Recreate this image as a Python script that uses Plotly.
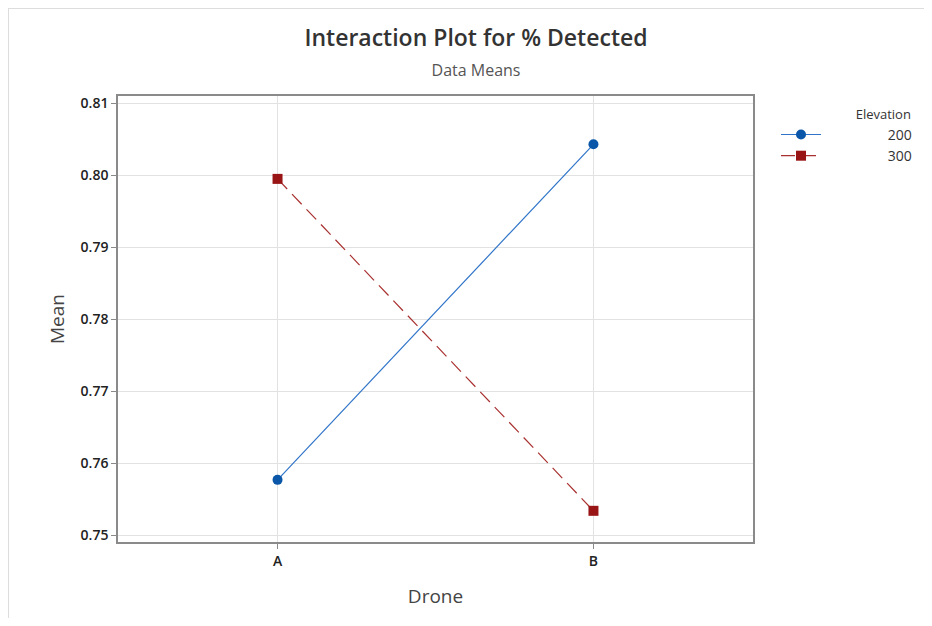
import plotly.graph_objects as go

drones = ["A", "B"]
elev_200 = [0.7577, 0.8043]
elev_300 = [0.7995, 0.7534]
series_names = ["200", "300"]
legend_title = "Elevation"
y_ticks = [0.75, 0.76, 0.77, 0.78, 0.79, 0.80, 0.81]
y_tick_labels = ["0.75", "0.76", "0.77", "0.78", "0.79", "0.80", "0.81"]

FONT = "Open Sans, Noto Sans, DejaVu Sans, sans-serif"
NB = "\u00a0"

# page body has an 8px default margin; figure sized to fit inside the window
OFF = 8
W, H = 932 - 2 * OFF, 626 - 2 * OFF
# desired plot-area edges in page pixels
PL, PR, PT, PB = 118, 753, 96, 542
L, R = PL - OFF, W - (PR - OFF)
T, B = PT - OFF, H - (PB - OFF)


def px_to_paper_x(px):  # px in page coords
    return (px - PL) / (PR - PL)


def px_to_paper_y(py):
    return (PB - py) / (PB - PT)


fig = go.Figure()
fig.add_trace(go.Scatter(
    x=drones, y=elev_200, name=NB * 17 + series_names[0], mode="lines+markers",
    line=dict(color="#2f74c8", width=1.2),
    marker=dict(symbol="circle", size=10, color="#0a56a8"),
))
fig.add_trace(go.Scatter(
    x=drones, y=elev_300, name=NB * 17 + series_names[1], mode="lines+markers",
    line=dict(color="#a83030", width=1.2, dash="14px,7px"),
    marker=dict(symbol="square", size=10, color="#991515"),
))

fig.update_layout(
    width=W, height=H,
    margin=dict(l=L, r=R, t=T, b=B, autoexpand=False),
    paper_bgcolor="white", plot_bgcolor="white",
    font=dict(family=FONT, color="#333333"),
    title=dict(
        text="Interaction Plot for % Detected<br><span style='font-size:16px;color:#555555;font-weight:400'>Data Means</span>",
        x=(476 - OFF) / W, xanchor="center", y=1 - 38 / H, yanchor="middle",
        font=dict(size=23, color="#333333", family=FONT, weight=600),
    ),
    xaxis=dict(
        type="category", range=[-0.505, 1.505],
        showgrid=True, gridcolor="#e2e2e2", gridwidth=1.2,
        showline=True, linecolor="#8a8a8a", linewidth=1.5, mirror=True,
        ticks="outside", ticklen=5, tickcolor="#8a8a8a",
        tickfont=dict(size=14, color="#222222", weight=600),
        title=dict(text="Drone", font=dict(size=19, color="#444444", weight=500), standoff=21),
        zeroline=False,
    ),
    yaxis=dict(
        range=[0.74907, 0.81101],
        tickvals=y_ticks, ticktext=y_tick_labels,
        showgrid=True, gridcolor="#e2e2e2", gridwidth=1.2,
        showline=True, linecolor="#8a8a8a", linewidth=1.5, mirror=True,
        ticks="outside", ticklen=5, tickcolor="#8a8a8a",
        tickfont=dict(size=14, color="#222222", weight=600),
        title=dict(text="Mean", font=dict(size=19, color="#444444", weight=500), standoff=11),
        zeroline=False,
    ),
    legend=dict(
        title=dict(text=NB * 23 + legend_title, font=dict(size=13, color="#333333"), side="top"),
        x=px_to_paper_x(776), xanchor="left",
        y=px_to_paper_y(102), yanchor="top",
        font=dict(size=14, color="#333333"),
        bgcolor="rgba(0,0,0,0)", borderwidth=0,
        itemwidth=40, tracegroupgap=0,
    ),
    shapes=[
        dict(type="line", xref="paper", yref="paper",
             x0=px_to_paper_x(OFF), x1=px_to_paper_x(932),
             y0=px_to_paper_y(OFF + 0.5), y1=px_to_paper_y(OFF + 0.5),
             line=dict(color="#dddddd", width=1)),
        dict(type="line", xref="paper", yref="paper",
             x0=px_to_paper_x(OFF + 0.5), x1=px_to_paper_x(OFF + 0.5),
             y0=px_to_paper_y(OFF), y1=px_to_paper_y(626),
             line=dict(color="#dddddd", width=1)),
    ],
)

fig.write_html("out.html")
